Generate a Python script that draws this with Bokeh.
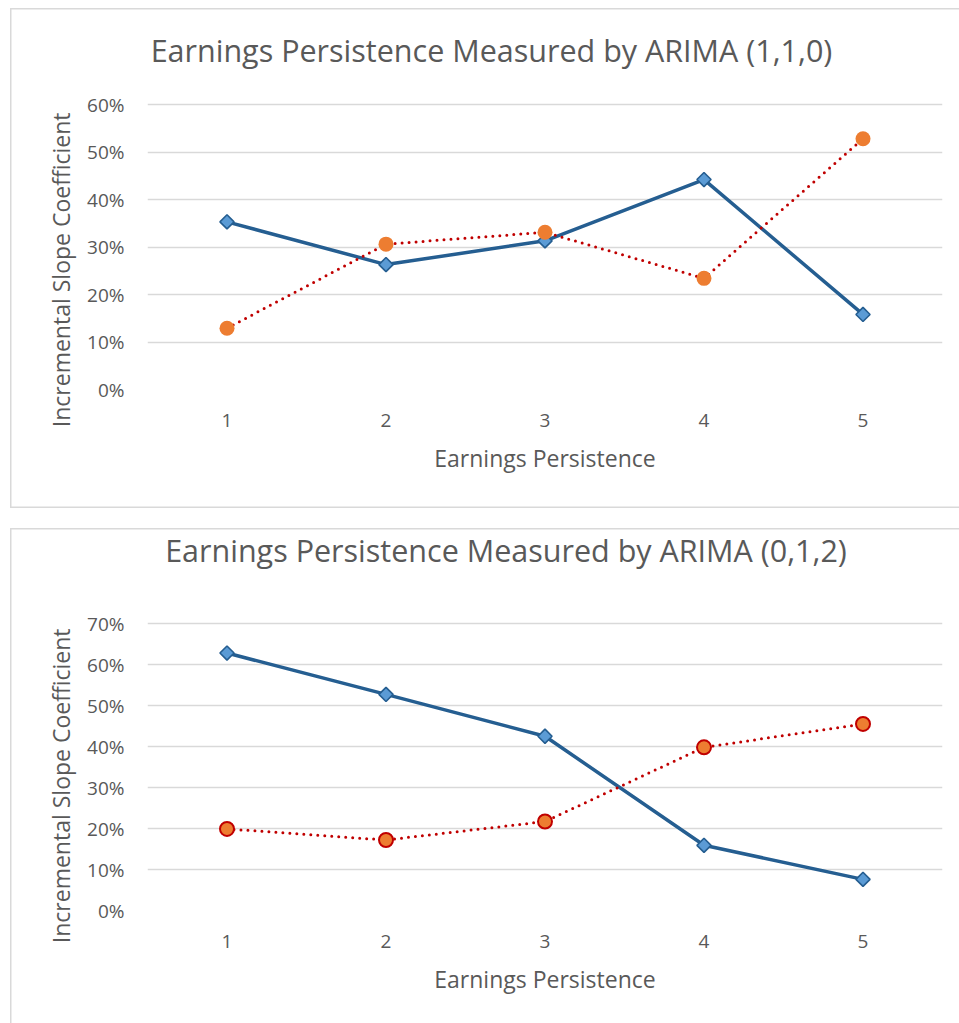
from bokeh.plotting import figure
from bokeh.models import (Range1d, FactorRange, FixedTicker,
                          NumeralTickFormatter, Title, Label)
from bokeh.layouts import column
from bokeh.embed import file_html
from bokeh.resources import INLINE

# ---------------- data ----------------
x_labels = ["1", "2", "3", "4", "5"]
top_title = "Earnings Persistence Measured by ARIMA (1,1,0)"
bottom_title = "Earnings Persistence Measured by ARIMA (0,1,2)"
x_axis_title = "Earnings Persistence"
y_axis_title = "Incremental Slope Coefficient"
top_y_ticks = [0.0, 0.1, 0.2, 0.3, 0.4, 0.5, 0.6]
bottom_y_ticks = [0.0, 0.1, 0.2, 0.3, 0.4, 0.5, 0.6, 0.7]

top_blue = [0.353, 0.263, 0.313, 0.442, 0.158]
top_orange = [0.129, 0.306, 0.331, 0.234, 0.528]
bottom_blue = [0.628, 0.527, 0.425, 0.159, 0.076]
bottom_orange = [0.199, 0.172, 0.217, 0.398, 0.455]

FONT = "Open Sans"
TXT = "#595959"
GRID = "#d9d9d9"
BLUE_LINE = "#255E91"
BLUE_FILL = "#5B9BD5"
ORANGE = "#ED7D31"
RED = "#C00000"
W = 949
LEFT, RIGHT = 137, 17
PLOT_W = W - LEFT - RIGHT


def make_chart(title, blue, orange, ticks, height, title_gap, b_bottom,
               title_cx, title_base, ylab_offset, orange_outline, shadow):
    # pixel scale: the tick span occupies (height - title_gap - b_bottom) px;
    # the frame is stretched upwards to the canvas top to host the title.
    grid_px = height - title_gap - b_bottom
    per_unit = grid_px / (ticks[-1] - ticks[0])
    frame_px = height - b_bottom
    y_end = ticks[0] + frame_px / per_unit
    p = figure(width=W, height=height,
               x_range=FactorRange(*x_labels),
               y_range=Range1d(ticks[0], y_end),
               output_backend="svg", toolbar_location=None,
               min_border_left=LEFT, min_border_right=RIGHT,
               min_border_top=0, min_border_bottom=b_bottom,
               outline_line_color=None, background_fill_color=None,
               border_fill_color=None)
    p.styles = {"box-shadow": shadow}
    p.xgrid.grid_line_color = None
    p.ygrid.grid_line_color = GRID
    p.ygrid.grid_line_width = 1.3
    p.yaxis.ticker = FixedTicker(ticks=ticks)
    p.yaxis.formatter = NumeralTickFormatter(format="0%")
    for ax in (p.xaxis[0], p.yaxis[0]):
        ax.axis_line_color = None
        ax.major_tick_line_color = None
        ax.minor_tick_line_color = None
        ax.major_tick_out = 0
        ax.major_tick_in = 0
        ax.minor_tick_out = 0
        ax.major_label_text_font = FONT
        ax.major_label_text_font_size = "19px"
        ax.major_label_text_color = TXT
    p.yaxis.major_label_standoff = 23
    p.xaxis.major_label_standoff = 24
    p.xaxis.axis_label = x_axis_title
    p.xaxis.axis_label_text_font = FONT
    p.xaxis.axis_label_text_font_size = "23px"
    p.xaxis.axis_label_text_font_style = "normal"
    p.xaxis.axis_label_text_color = TXT
    p.xaxis.axis_label_standoff = 12

    p.line(x_labels, blue, line_color=BLUE_LINE, line_width=3.5)
    p.scatter(x_labels, blue, marker="square", angle=0.785398, size=10,
              fill_color=BLUE_FILL, line_color=BLUE_LINE, line_width=1.6)
    p.line(x_labels, orange, line_color=RED, line_width=3,
           line_dash="0 7", line_cap="round")
    if orange_outline:
        p.scatter(x_labels, orange, marker="circle", size=14,
                  fill_color=ORANGE, line_color=RED, line_width=2)
    else:
        p.scatter(x_labels, orange, marker="circle", size=15,
                  fill_color=ORANGE, line_color=None)

    # chart title, placed by pixel position within the stretched frame
    tx = (title_cx - LEFT) / PLOT_W * len(x_labels)
    ty = ticks[0] + (frame_px - title_base) / per_unit
    p.add_layout(Label(x=tx, y=ty, text=title, text_font=FONT,
                       text_font_size="30.5px", text_color=TXT,
                       text_align="center", text_baseline="alphabetic"))
    p.add_layout(Title(text=y_axis_title, align="right", offset=ylab_offset,
                       standoff=16, text_font=FONT, text_font_size="23px",
                       text_font_style="normal", text_color=TXT), "left")
    return p


p1 = make_chart(top_title, top_blue, top_orange, top_y_ticks, 500, 96, 119,
                481, 41, 104, False,
                "inset 1.5px 1.5px 0 0 #d9d9d9, inset 0 -1.5px 0 0 #d9d9d9")
p2 = make_chart(bottom_title, bottom_blue, bottom_orange, bottom_y_ticks,
                495, 95, 113, 495.5, 21, 100, True,
                "inset 1.5px 1.5px 0 0 #d9d9d9")
p1.margin = (8, 0, 0, 10)
p2.margin = (20, 0, 0, 10)

layout = column(p1, p2)
open("out.html", "w").write(file_html(layout, INLINE))
